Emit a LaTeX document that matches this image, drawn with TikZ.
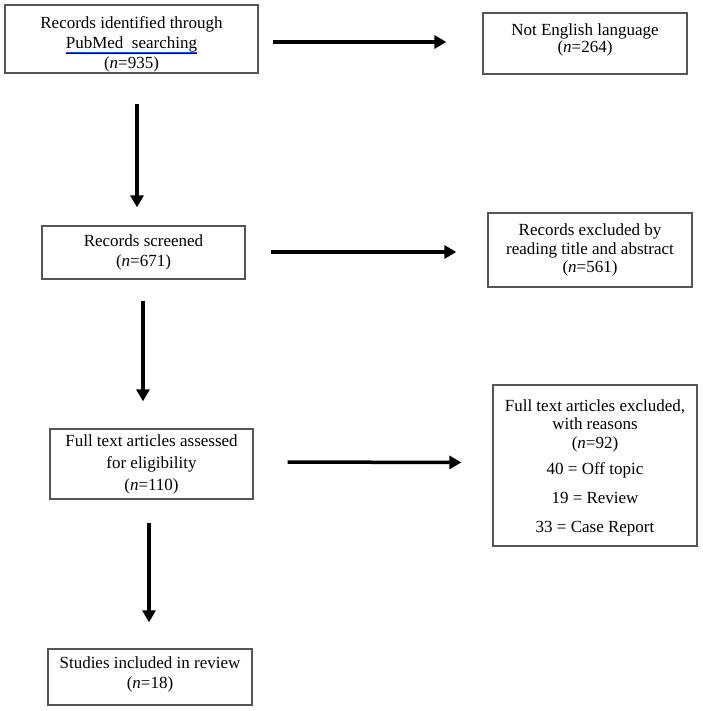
\documentclass[tikz,border=0pt]{standalone}
\usepackage{fontspec}
\setmainfont{Liberation Serif}
\usetikzlibrary{arrows.meta}
\definecolor{linkblue}{RGB}{30,80,255}
\definecolor{boxgray}{RGB}{85,85,85}
\newsavebox\ulbox
\newcommand\pubul[1]{\sbox\ulbox{\underline{#1}}\leavevmode\rlap{\usebox\ulbox}\raisebox{-5pt}{\textcolor{linkblue}{\rule{\wd\ulbox}{1.3pt}}}}
\tikzset{
  box/.style={draw=boxgray, line width=1.3pt, rectangle, inner sep=0pt, align=center,
    font=\fontsize{17}{20}\selectfont},
  txt/.style={inner sep=0pt, align=center, font=\fontsize{17}{20}\selectfont},
  arr/.style={line width=3.5pt, -{Triangle[width=13pt,length=12pt]}},
}
\begin{document}
\begin{tikzpicture}[x=1pt,y=-1pt]
\useasboundingbox (0,0) rectangle (702,711);
% boxes
\node[box, minimum width=253pt, minimum height=68pt] (b1) at (131.5,39) {};
\node[txt] (t1) at (131.5,44)
  {Records identified through\\ \pubul{PubMed\ \ searching}\\ (\textit{n}=935)};
\node[box, minimum width=204pt, minimum height=61pt] (b2) at (585,43.5) {};
\node[txt] (t2) at (585,40) {Not English language\\[-3pt] (\textit{n}=264)};
\node[box, minimum width=203pt, minimum height=53pt] (b3) at (143.5,252.5)
  {Records screened\\ (\textit{n}=671)};
\node[box, minimum width=204pt, minimum height=74pt] (b4) at (590,250)
  {Records excluded by\\[-1.5pt] reading title and abstract\\[-1.5pt] (\textit{n}=561)};
\node[box, minimum width=203pt, minimum height=70pt] (b5) at (151.5,464)
  {Full text articles assessed\\[2pt] for eligibility\\[2pt] (\textit{n}=110)};
\node[box, minimum width=204pt, minimum height=161pt] (b6) at (595,465.5) {};
\node[txt] (t6) at (595,467.5)
  {Full text articles excluded,\\[-2pt] with reasons\\[-1pt] (\textit{n}=92)\\[6pt]
   40 = Off topic\\[9pt] 19 = Review\\[9pt] 33 = Case Report};
\node[box, minimum width=204pt, minimum height=56pt] (b7) at (150,677) {};
\node[txt] (t7) at (150,674) {Studies included in review\\ (\textit{n}=18)};
% vertical arrows
\draw[arr, shorten <=30pt, shorten >=18pt] ([xshift=5.5pt]b1.south) -- ([xshift=-6.5pt]b3.north);
\draw[arr, shorten <=21pt, shorten >=27pt] ([xshift=-0.5pt]b3.south) -- ([xshift=-8.5pt]b5.north);
\draw[arr, shorten <=23pt, shorten >=26pt] ([xshift=-2.5pt]b5.south) -- ([xshift=-1pt]b7.north);
% horizontal arrows
\draw[arr, shorten <=14pt, shorten >=36pt] ([yshift=-3pt]b1.east) -- ([yshift=1.5pt]b2.west);
\draw[arr, shorten <=25pt, shorten >=31pt] ([yshift=0.5pt]b3.east) -- ([yshift=-2pt]b4.west);
\draw[arr, shorten <=34pt, shorten >=31pt] ([yshift=2pt]b5.east) -- ([yshift=3pt]b6.west);
\end{tikzpicture}
\end{document}
